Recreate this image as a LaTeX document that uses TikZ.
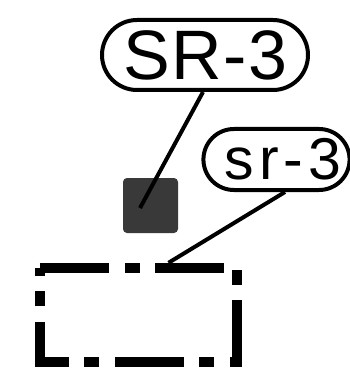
\documentclass[tikz,border=0pt]{standalone}
\usepackage{fontspec}
\setmainfont{Liberation Sans}
\usetikzlibrary{shapes.misc}
\definecolor{sqgray}{HTML}{393939}
\tikzset{
  tag/.style={rounded rectangle, draw=black, line width=4pt, inner sep=0pt},
  lead/.style={draw=black, line width=4pt},
  dashframe/.style={draw=black, line width=10.5pt, dash pattern=on 69pt off 16pt on 15pt off 15pt},
}
\begin{document}
\begin{tikzpicture}[x=1pt,y=-1pt]
\useasboundingbox (0,0) rectangle (349,379);
\node[tag, minimum width=206pt, minimum height=70pt, font=\fontsize{70pt}{70pt}\selectfont] (SR3) at (205,55) {S\hspace{1.5pt}R\hspace{1.5pt}-\hspace{1.5pt}3};
\node[tag, minimum width=139pt, minimum height=61pt, font=\fontsize{59pt}{59pt}\selectfont] (sr3) at (276.5,159.5) {\hspace*{13pt}s\hspace{5pt}r\hspace{5pt}-\hspace{5pt}3};
\node[fill=sqgray, rounded corners=4pt, minimum width=55pt, minimum height=55pt, inner sep=0pt] (sq) at (150.5,205.5) {};
\node[minimum width=197pt, minimum height=94pt, inner sep=0pt] (box) at (138.5,315) {};
\coordinate (p1) at (140,208);
\coordinate (p2) at ([xshift=30pt,yshift=5pt]box.north);
\draw[dashframe] (box.north west) -- (box.north east) -- (box.south east) -- (box.south west) -- cycle;
\draw[lead] ([xshift=-2pt]SR3.south) -- (p1);
\draw[lead] ([xshift=8.5pt]sr3.south) -- (p2);
\end{tikzpicture}
\end{document}
